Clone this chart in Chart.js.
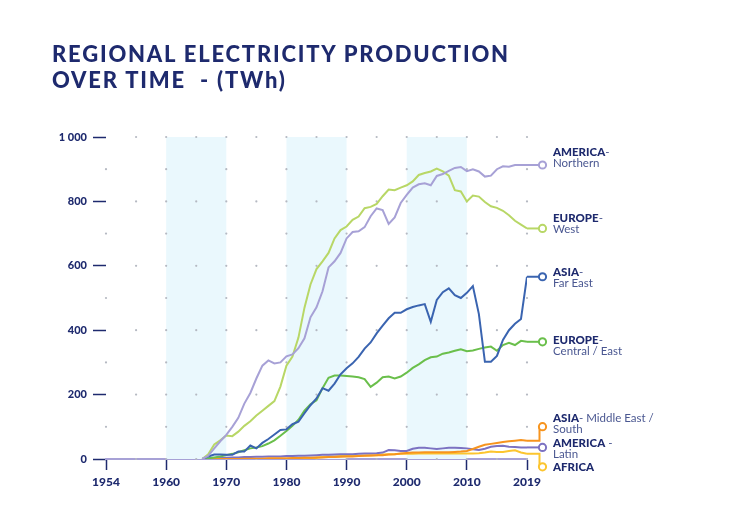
<!DOCTYPE html>
<html>
<head>
<meta charset="utf-8">
<script src="https://cdn.jsdelivr.net/npm/chart.js@4/dist/chart.umd.min.js"></script>
<style>
  html, body { margin: 0; padding: 0; background: #fff; }
  #wrap { position: relative; width: 750px; height: 526px; }
  #wrap canvas { position: absolute; left: 0; top: 0; }
  #title {
    position: absolute; left: 52px; top: 41px; margin: 0;
    font: 900 22px/26px Lato, sans-serif; color: #1e2a6e; letter-spacing: 1.8px;
  }
</style>
</head>
<body>
<div id="wrap">
  <canvas id="chart"></canvas>
  <h1 id="title">REGIONAL ELECTRICITY PRODUCTION<br>OVER TIME&nbsp; - (TWh)</h1>
</div>
<script>
// yearly values, 1965 -> 2019 (TWh)
const firstYear = 1965;
const americaNorthern = [0, 10, 33, 55, 75, 100, 128, 172, 205, 250,
  290, 306, 297, 300, 319, 325, 344, 375, 440, 471,
  521, 595, 614, 640, 685, 705, 707, 720, 754, 778,
  773, 730, 750, 795, 820, 843, 853, 856, 850, 879,
  885, 895, 904, 907, 894, 900, 893, 877, 880, 900,
  909, 908, 913, 913, 913];
const europeWest = [0, 15, 45, 58, 73, 71, 85, 103, 117, 135,
  150, 165, 180, 225, 290, 318, 377, 470, 542, 590,
  614, 640, 685, 711, 722, 743, 753, 779, 783, 792,
  816, 837, 835, 843, 850, 862, 882, 888, 893, 902,
  893, 880, 835, 831, 800, 818, 815, 798, 785, 780,
  771, 757, 740, 728, 716];
const asiaFarEast = [0, 8, 14, 14, 13, 13, 23, 23, 42, 33,
  50, 62, 76, 90, 92, 108, 116, 142, 167, 188,
  220, 212, 234, 263, 282, 297, 317, 343, 362, 390,
  414, 437, 454, 454, 465, 472, 477, 481, 426, 494,
  518, 530, 509, 500, 516, 537, 450, 302, 302, 320,
  370, 400, 420, 435, 566];
const europeCentralEast = [0, 2, 5, 8, 12, 16, 21, 27, 33, 36,
  40, 48, 58, 72, 87, 103, 122, 150, 170, 182,
  220, 252, 259, 259, 258, 256, 254, 248, 224, 237,
  254, 256, 250, 256, 268, 283, 294, 307, 316, 318,
  327, 331, 336, 341, 335, 337, 342, 346, 349, 336,
  354, 361, 354, 367, 364];
const asiaMiddleEastSouth = [0, 0, 0, 0, 0, 0, 0, 1, 1, 1,
  1, 2, 2, 2, 2, 3, 3, 4, 4, 5,
  5, 6, 6, 7, 8, 8, 9, 10, 11, 12,
  12, 14, 15, 17, 19, 20, 20, 21, 21, 21,
  21, 21, 22, 23, 25, 31, 38, 44, 47, 50,
  53, 55, 57, 59, 57];
const americaLatin = [0, 1, 2, 3, 4, 5, 5, 6, 6, 7,
  7, 8, 8, 8, 9, 9, 10, 10, 11, 12,
  13, 13, 14, 15, 15, 15, 16, 17, 17, 18,
  20, 28, 27, 25, 25, 32, 35, 35, 33, 31,
  33, 35, 35, 34, 33, 30, 28, 32, 38, 40,
  41, 38, 37, 36, 36];
const africa = [0, 0, 0, 0, 0, 0, 0, 0, 0, 0,
  0, 0, 0, 0, 0, 0, 0, 0, 0, 4,
  6, 8, 8, 9, 10, 10, 10, 11, 11, 12,
  14, 15, 15, 16, 16, 16, 17, 17, 17, 17,
  17, 17, 17, 17, 17, 17, 18, 20, 23, 22,
  22, 25, 27, 20, 16];

// x axis: tick positions and the labels printed under them
const xTickValues = [1949, 1959, 1969, 1979, 1989, 1999, 2009, 2019];
const xTickLabels = ['1954', '1960', '1970', '1980', '1990', '2000', '2010', '2019'];
const yTickLabels = {0: '0', 200: '200', 400: '400', 600: '600', 800: '800', 1000: '1 000'};
const shadedBands = [[1959, 1969], [1979, 1989], [1999, 2009]];

const labelBold = ['AMERICA', 'EUROPE', 'ASIA', 'EUROPE', 'ASIA', 'AMERICA', 'AFRICA'];
const labelRest = ['-', '-', '-', '-', '- Middle East /', ' -', ''];
const labelSub = ['Northern', 'West', 'Far East', 'Central / East', 'South', 'Latin', ''];

const allSeries = [americaNorthern, europeWest, asiaFarEast, europeCentralEast,
  asiaMiddleEastSouth, americaLatin, africa];
const colors = ['#a7a1d6', '#b8d766', '#3a64b0', '#6abf4b', '#f7941e', '#7c72c2', '#fcc52f'];
// label placement (pixels): circle offset from last value, text baseline offset from circle
const circleShift = [0, 0, 0, 0, -14, 0, 13];
const textShift = [-9, -6, -1, 2, -5, 0, 4.5];

const NAVY = '#1e2a6e';

const decor = {
  id: 'decor',
  beforeDatasetsDraw(chart) {
    const {ctx, chartArea: a, scales: {x, y}} = chart;
    ctx.save();
    ctx.fillStyle = '#eaf8fd';
    shadedBands.forEach(b => {
      const x0 = x.getPixelForValue(b[0]);
      const x1 = x.getPixelForValue(b[1]);
      ctx.fillRect(x0, a.top, x1 - x0, a.bottom - a.top);
    });
    // dotted grid
    ctx.fillStyle = '#b5b9c2';
    for (let v = 1949; v <= 2019; v += 5) {
      const decade = (v - 1949) % 10 === 0;
      for (let t = 0; t <= 1000; t += 100) {
        const even = t % 200 === 0;
        if (v === 1949 ? even : (!decade && !even)) continue;
        ctx.beginPath();
        ctx.arc(x.getPixelForValue(v), y.getPixelForValue(t), 1.1, 0, Math.PI * 2);
        ctx.fill();
      }
    }
    ctx.restore();
  },
  afterDatasetsDraw(chart) {
    const {ctx, scales: {x, y}} = chart;
    ctx.save();
    allSeries.forEach((data, i) => {
      const px = x.getPixelForValue(firstYear + data.length - 1);
      const py = y.getPixelForValue(data[data.length - 1]);
      const cx = px + 15.5;
      const cy = py + circleShift[i];
      ctx.strokeStyle = colors[i];
      ctx.lineWidth = 2;
      ctx.beginPath();
      ctx.moveTo(px, py);
      if (circleShift[i] === 0) {
        ctx.lineTo(cx, cy);
      } else {
        ctx.lineTo(cx - 3, py);
        ctx.lineTo(cx - 3, cy);
      }
      ctx.stroke();
      ctx.beginPath();
      ctx.arc(cx, cy, 3.6, 0, Math.PI * 2);
      ctx.fillStyle = '#fff';
      ctx.fill();
      ctx.stroke();

      const tx = cx + 10.5;
      const ty = cy + textShift[i];
      ctx.textBaseline = 'alphabetic';
      ctx.fillStyle = NAVY;
      ctx.font = '900 11.5px Lato';
      ctx.fillText(labelBold[i], tx, ty);
      const w = ctx.measureText(labelBold[i]).width;
      ctx.font = '400 11.5px Lato';
      ctx.fillStyle = '#4a5791';
      ctx.fillText(labelRest[i], tx + w, ty);
      ctx.fillText(labelSub[i], tx, ty + 11);
    });
    ctx.restore();
  }
};

function draw() {
  const datasets = allSeries.map((data, i) => ({
    label: labelBold[i] + ' ' + labelSub[i],
    data: data.map((v, k) => ({x: firstYear + k, y: v})),
    borderColor: colors[i],
    borderWidth: 2,
    pointRadius: 0,
    tension: 0,
    fill: false
  }));

  new Chart(document.getElementById('chart').getContext('2d'), {
    type: 'line',
    data: {datasets: datasets},
    options: {
      responsive: true,
      maintainAspectRatio: false,
      animation: false,
      layout: {padding: {left: 52, right: 223, top: 137, bottom: 0}},
      plugins: {legend: {display: false}, tooltip: {enabled: false}},
      scales: {
        x: {
          type: 'linear',
          min: 1949,
          max: 2019,
          afterBuildTicks: scale => { scale.ticks = xTickValues.map(v => ({value: v})); },
          afterFit: scale => { scale.height = 67; },
          border: {display: true, color: '#a7a1d6', width: 2},
          grid: {drawOnChartArea: false, tickLength: 11, tickColor: NAVY, tickWidth: 1.5},
          ticks: {
            autoSkip: false, maxRotation: 0, padding: 5, color: NAVY,
            font: {family: 'Lato', weight: '900', size: 12},
            callback: v => xTickLabels[xTickValues.indexOf(v)]
          }
        },
        y: {
          min: 0,
          max: 1000,
          afterFit: scale => { scale.width = 54; },
          border: {display: false},
          grid: {drawOnChartArea: false, tickLength: 13, tickColor: NAVY, tickWidth: 1.5},
          ticks: {
            stepSize: 200, padding: 6, color: NAVY,
            font: {family: 'Lato', weight: '900', size: 11},
            callback: v => yTickLabels[v]
          }
        }
      }
    },
    plugins: [decor]
  });
}

Promise.all([document.fonts.load('900 12px Lato'), document.fonts.load('400 12px Lato')])
  .then(draw, draw);
</script>
</body>
</html>
